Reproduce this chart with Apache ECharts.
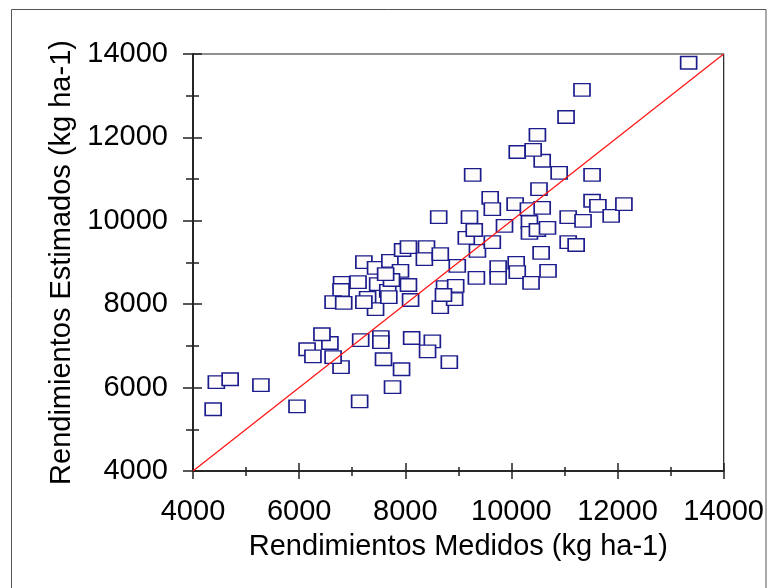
<!DOCTYPE html>
<html>
<head>
<meta charset="utf-8">
<script src="https://cdn.jsdelivr.net/npm/echarts@6/dist/echarts.min.js"></script>
<style>
  html, body { margin: 0; padding: 0; background: #fff; }
  #chart { width: 767px; height: 588px; }
</style>
</head>
<body>
<div id="chart"></div>
<script>
// Measured yields (kg ha-1)
const medidos = [
  4380, 4440, 4700, 5280, 5960, 7140, 7760, 7930, 7590, 8830,
  8510, 8420, 8120, 7540, 7540, 7160, 6790, 6640, 6580, 6430,
  6150, 6260,
  7220, 7440, 7710, 7910, 7950, 8060, 8400, 8360, 8660, 8980,
  9150, 8630, 9210, 6800, 6790, 6640, 6840, 7110, 7480, 7290,
  7440, 7670, 7690, 7740, 8060, 8100, 8660, 8740, 8950, 8930,
  7220, 7630, 8720,
  9360, 9750, 10090, 10110, 9750, 9340, 10370, 10690, 10560, 11070,
  11220, 9640, 9870, 10340, 10340, 10490, 10680, 9300, 9600, 9640,
  10070, 10320, 10580, 10520, 9270, 10900, 11520, 10580, 11520, 11630,
  11880, 12120, 11070, 11350, 10110, 10410, 10490, 11030, 11330, 13340
];

// Estimated yields (kg ha-1)
const estimados = [
  5480, 6130, 6200, 6060, 5550, 5670, 6010, 6440, 6680, 6610,
  7110, 6870, 7190, 7210, 7090, 7140, 6490, 6730, 7070, 7280,
  6920, 6750,
  9010, 8870, 9040, 8800, 9300, 9370, 9370, 9080, 9200, 8920,
  9590, 10090, 10090, 8510, 8340, 8050, 8030, 8530, 8480, 8150,
  7880, 8320, 8170, 8580, 8460, 8100, 7930, 8410, 8440, 8120,
  8050, 8720, 8220,
  9280, 8890, 8990, 8770, 8630, 8630, 8510, 8800, 9230, 9490,
  9420, 9490, 9880, 9970, 9710, 9780, 9830, 9780, 10550, 10280,
  10400, 10280, 10310, 10760, 11100, 11150, 11100, 11440, 10480, 10360,
  10120, 10400, 10090, 10000, 11650, 11700, 12060, 12490, 13140, 13790
];

// 1:1 reference line
const linea11 = [[4000, 4000], [14000, 14000]];

const axisMin = 4000;
const axisMax = 14000;
const axisStep = 2000;

const puntos = medidos.map((m, i) => [m, estimados[i]]);

const fuente = '"Liberation Sans", Arial, Helvetica, sans-serif';
const ejeColor = '#222';
const sinSeparador = v => String(v);

const chart = echarts.init(document.getElementById('chart'), null, { renderer: 'canvas' });

const baseAxis = {
  type: 'value',
  min: axisMin,
  max: axisMax,
  interval: axisStep,
  splitLine: { show: false },
  axisLine: { show: true, lineStyle: { color: ejeColor, width: 1.5 } }
};

chart.setOption({
  backgroundColor: '#fff',
  animation: false,
  graphic: [{
    type: 'rect',
    shape: { x: 11.5, y: 9.5, width: 754.5, height: 600 },
    style: { fill: 'none', stroke: '#555', lineWidth: 1 },
    silent: true,
    z: -10
  }],
  grid: {
    left: 193, top: 54, right: 42, bottom: 117,
    show: true, borderColor: ejeColor, borderWidth: 1.2,
    backgroundColor: 'transparent'
  },
  xAxis: [
    Object.assign({}, baseAxis, {
      position: 'bottom',
      name: 'Rendimientos Medidos (kg ha-1)',
      nameLocation: 'middle',
      nameGap: 61,
      nameTextStyle: { fontFamily: fuente, fontSize: 29, color: '#000' },
      axisLabel: { fontFamily: fuente, fontSize: 29, color: '#000', margin: 26, formatter: sinSeparador },
      axisTick: { show: true, length: 8, inside: false, lineStyle: { color: ejeColor, width: 1.5 } },
      minorTick: { show: true, splitNumber: 2, length: 5, lineStyle: { color: ejeColor, width: 1.5 } }
    }),
    Object.assign({}, baseAxis, {
      position: 'bottom',
      axisLabel: { show: false },
      axisTick: { show: true, length: 8, inside: true, lineStyle: { color: ejeColor, width: 1.5 } },
      minorTick: { show: true, splitNumber: 2, length: 4, lineStyle: { color: ejeColor, width: 1.5 } }
    })
  ],
  yAxis: [
    Object.assign({}, baseAxis, {
      position: 'left',
      name: 'Rendimientos Estimados (kg ha-1)',
      nameLocation: 'middle',
      nameGap: 106,
      nameTextStyle: { fontFamily: fuente, fontSize: 29, color: '#000' },
      axisLabel: { fontFamily: fuente, fontSize: 29, color: '#000', margin: 25, formatter: sinSeparador },
      axisTick: { show: true, length: 10, inside: false, lineStyle: { color: ejeColor, width: 1.5 } },
      minorTick: { show: true, splitNumber: 2, length: 7, lineStyle: { color: ejeColor, width: 1.5 } }
    }),
    Object.assign({}, baseAxis, {
      position: 'left',
      axisLabel: { show: false },
      axisTick: { show: true, length: 9, inside: true, lineStyle: { color: ejeColor, width: 1.5 } },
      minorTick: { show: true, splitNumber: 2, length: 6, lineStyle: { color: ejeColor, width: 1.5 } }
    })
  ],
  series: [
    {
      type: 'scatter',
      data: puntos,
      symbol: 'rect',
      symbolSize: [16, 12.5],
      itemStyle: { color: '#fdfcfb', borderColor: '#1c1c8c', borderWidth: 1.5, opacity: 1 },
      z: 2
    },
    {
      type: 'line',
      data: linea11,
      symbol: 'none',
      lineStyle: { color: '#ff1010', width: 1.2 },
      z: 3
    }
  ]
});
</script>
</body>
</html>
